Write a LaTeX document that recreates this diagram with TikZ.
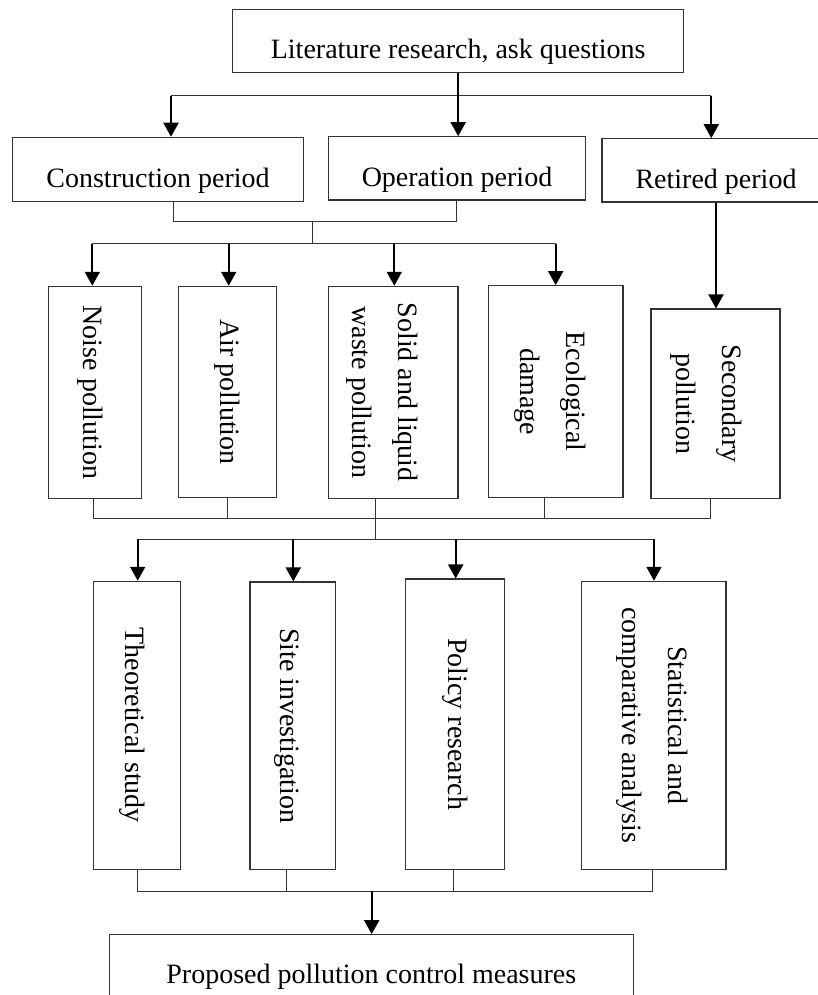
\documentclass[tikz,border=0pt]{standalone}
\usepackage{fontspec}
\setmainfont{Liberation Serif}
\usetikzlibrary{arrows.meta}
\newcommand{\vtx}[2]{\rotatebox{-90}{\begin{tabular}{@{}c@{}}#2\end{tabular}}\hspace*{#1}}
\begin{document}
\begin{tikzpicture}[x=1pt,y=-1pt,
  box/.style={draw=black!80, line width=1.1pt, inner sep=0pt, font=\fontsize{28}{46}\selectfont},
  hbox/.style={box, text height=38.6pt, text depth=3pt},
  thinline/.style={draw=black!80, line width=1pt},
  arr/.style={line width=2pt, -{Triangle[length=14pt,width=15pt]}}]
\useasboundingbox (0,0) rectangle (818,995);
\fill[white] (0,0) rectangle (818,995);

% row 1
\node[hbox, minimum width=451pt, minimum height=63.4pt] (lit) at (458.2,41) {Literature research, ask questions};
% row 2
\node[hbox, minimum width=291.4pt, minimum height=64pt] (cons) at (158,169.3) {Construction period};
\node[hbox, minimum width=257.4pt, minimum height=63.3pt] (op) at (457,168.35) {Operation period};
\node[hbox, minimum width=228pt, minimum height=63.3pt] (ret) at (716,170.35) {Retired period};
% row 3
\node[box, minimum width=93.4pt, minimum height=212.2pt] (noise) at (95,392.4) {\vtx{4.6pt}{Noise pollution}};
\node[box, minimum width=98pt, minimum height=211.4pt] (air) at (227.3,392) {\vtx{-5.4pt}{Air pollution}};
\node[box, minimum width=129.3pt, minimum height=212pt] (solid) at (393.35,392.3) {\vtx{16.6pt}{Solid and liquid\\waste pollution}};
\node[box, minimum width=134.3pt, minimum height=212pt] (eco) at (555.85,391.7) {\vtx{6.6pt}{Ecological\\damage}};
\node[box, minimum width=129pt, minimum height=189.3pt] (sec) at (715.5,403.65) {\vtx{14.6pt}{Secondary\\pollution}};
% row 4
\node[box, minimum width=87.4pt, minimum height=288pt] (theo) at (137,725.3) {\vtx{4.6pt}{Theoretical study}};
\node[box, minimum width=85.7pt, minimum height=287.3pt] (site) at (292.85,725.65) {\vtx{6.6pt}{Site investigation}};
\node[box, minimum width=99pt, minimum height=290.3pt] (pol) at (454.8,724.15) {\vtx{-5.4pt}{Policy research}};
\node[box, minimum width=144.3pt, minimum height=288pt] (stat) at (653.85,725.3) {\vtx{-1.4pt}{Statistical and\\comparative analysis}};
% row 5
\node[box, minimum width=524pt, minimum height=85.3pt, text height=20pt, text depth=8.7pt] (fin) at (371.3,977.35) {Proposed pollution control measures};

% connectors row1 -> row2
\coordinate (b1l) at (171,95.7);
\coordinate (b1r) at (711.3,95.7);
\draw[thinline] (b1l) -- (b1r);
\draw[arr] (b1l) -- (b1l |- cons.north);
\draw[arr] (lit.south) -- (lit.south |- op.north);
\draw[arr] (b1r) -- (b1r |- ret.north);

% row2 -> row3
\coordinate (c1) at (173,221);
\coordinate (c2) at (456.3,221);
\coordinate (j1) at (312,221);
\coordinate (b2c) at (312,243.7);
\draw[thinline] (c1 |- cons.south) -- (c1) -- (c2) -- (c2 |- op.south);
\draw[thinline] (j1) -- (b2c);
\coordinate (b2l) at (92.3,243.7);
\coordinate (b2a) at (228.7,243.7);
\coordinate (b2s) at (394.3,243.7);
\coordinate (b2r) at (555.7,243.7);
\draw[thinline] (b2l) -- (b2r);
\draw[arr] (b2l) -- (b2l |- noise.north);
\draw[arr] (b2a) -- (b2a |- air.north);
\draw[arr] (b2s) -- (b2s |- solid.north);
\draw[arr] (b2r) -- (b2r |- eco.north);
\draw[arr] (ret.south) -- (ret.south |- sec.north);

% row3 -> row4
\coordinate (k1) at (93.3,518.3);
\coordinate (k2) at (227.7,518.3);
\coordinate (k3) at (375,518.3);
\coordinate (k4) at (544.7,518.3);
\coordinate (k5) at (710.7,518.3);
\draw[thinline] (k1 |- noise.south) -- (k1) -- (k5) -- (k5 |- sec.south);
\draw[thinline] (k2 |- air.south) -- (k2);
\draw[thinline] (k4 |- eco.south) -- (k4);
\coordinate (b3c) at (375,539);
\draw[thinline] (k3 |- solid.south) -- (b3c);
\coordinate (b3l) at (137.7,539);
\coordinate (b3a) at (293.3,539);
\coordinate (b3p) at (455.7,539);
\coordinate (b3r) at (654,539);
\draw[thinline] (b3l) -- (b3r);
\draw[arr] (b3l) -- (b3l |- theo.north);
\draw[arr] (b3a) -- (b3a |- site.north);
\draw[arr] (b3p) -- (b3p |- pol.north);
\draw[arr] (b3r) -- (b3r |- stat.north);

% row4 -> row5
\coordinate (m1) at (137.7,891);
\coordinate (m2) at (286.7,891);
\coordinate (m3) at (453.7,891);
\coordinate (m4) at (652.3,891);
\coordinate (mc) at (371.7,891);
\draw[thinline] (m1 |- theo.south) -- (m1) -- (m4) -- (m4 |- stat.south);
\draw[thinline] (m2 |- site.south) -- (m2);
\draw[thinline] (m3 |- pol.south) -- (m3);
\draw[arr] (mc) -- (mc |- fin.north);
\end{tikzpicture}
\end{document}
